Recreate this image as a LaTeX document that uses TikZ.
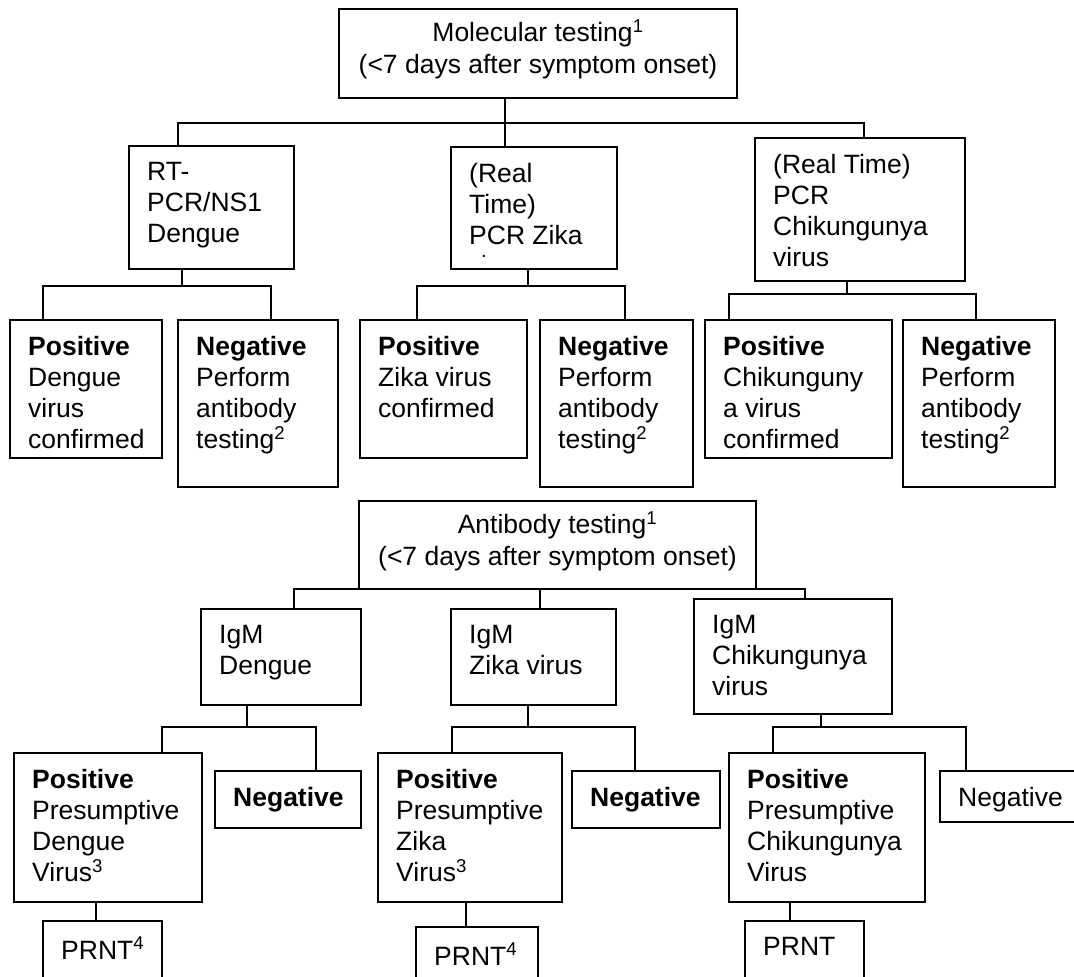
\documentclass[tikz,border=0pt]{standalone}
\usepackage{fontspec}
\setmainfont{Liberation Sans}
\usetikzlibrary{calc}
\tikzset{
  box/.style={draw=black, line width=1.6pt, anchor=north west, inner sep=0pt, outer sep=0pt, rectangle},
  txt/.style={anchor=north west, inner sep=0pt, align=left, font=\fontsize{26.5}{31}\selectfont},
  ctxt/.style={inner sep=0pt, align=center, font=\fontsize{26.5}{32}\selectfont},
  conn/.style={line width=1.6pt, line cap=rect},
}
\newcommand{\bx}[6]{%
  \node[box, minimum width=#4pt, minimum height=#5pt] (#1) at (#2,#3) {};
  \node[txt] (#1t) at ($(#1.north west)+(18,16)$) {#6};
}
\begin{document}
\begin{tikzpicture}[x=1pt,y=-1pt]
\useasboundingbox (0,0) rectangle (1074,977);
\fill[white] (0,0) rectangle (1074,977);
\clip (0,0) rectangle (1074,977);

% ---------- molecular testing ----------
\node[box, minimum width=398pt, minimum height=89pt] (T) at (339,9) {};
\node[ctxt] (Tt) at ($(T.center)+(0,-4)$) {Molecular testing\textsuperscript{1}\\(<7 days after symptom onset)};

\bx{P1}{129}{146}{165}{123}{RT-\\PCR/NS1\\Dengue}
\bx{P2}{451}{147}{166}{122}{(Real\\Time)\\PCR Zika}
\node[anchor=base, inner sep=0pt, font=\fontsize{20}{24}\selectfont] (P2dot) at (484,257) {.};
\bx{P3}{755}{138}{210}{143}{(Real Time)\\PCR\\Chikungunya\\virus}

\bx{Dp}{10}{320}{152}{138}{\textbf{Positive}\\Dengue\\virus\\confirmed}
\bx{Dn}{178}{320}{160}{167}{\textbf{Negative}\\Perform\\antibody\\testing\textsuperscript{2}}
\bx{Zp}{360}{320}{167}{138}{\textbf{Positive}\\Zika virus\\confirmed}
\bx{Zn}{540}{320}{153}{167}{\textbf{Negative}\\Perform\\antibody\\testing\textsuperscript{2}}
\bx{Cp}{705}{320}{187}{138}{\textbf{Positive}\\Chikunguny\\a virus\\confirmed}
\bx{Cn}{903}{320}{152}{167}{\textbf{Negative}\\Perform\\antibody\\testing\textsuperscript{2}}

% connectors (top)
\coordinate (j0m) at (505,123);
\coordinate (j0l) at (178,123);
\coordinate (j0r) at (864,123);
\draw[conn] (T.south -| j0m) -- (j0m);
\draw[conn] (P1.north -| j0l) -- (j0l) -- (j0r) -- (P3.north -| j0r);
\draw[conn] (j0m) -- (P2.north -| j0m);

\coordinate (j1m) at (182,286);
\coordinate (j1l) at (43,286);
\coordinate (j1r) at (271,286);
\draw[conn] (P1.south -| j1m) -- (j1m);
\draw[conn] (Dp.north -| j1l) -- (j1l) -- (j1r) -- (Dn.north -| j1r);

\coordinate (j2m) at (528,286);
\coordinate (j2l) at (417,286);
\coordinate (j2r) at (625,286);
\draw[conn] (P2.south -| j2m) -- (j2m);
\draw[conn] (Zp.north -| j2l) -- (j2l) -- (j2r) -- (Zn.north -| j2r);

\coordinate (j3m) at (847,294);
\coordinate (j3l) at (729,294);
\coordinate (j3r) at (976,294);
\draw[conn] (P3.south -| j3m) -- (j3m);
\draw[conn] (Cp.north -| j3l) -- (j3l) -- (j3r) -- (Cn.north -| j3r);

% ---------- antibody testing ----------
\node[box, minimum width=397pt, minimum height=88pt] (A) at (359,501) {};
\node[ctxt] (At) at ($(A.center)+(0,-4)$) {Antibody testing\textsuperscript{1}\\(<7 days after symptom onset)};

\bx{I1}{201}{609}{160}{96}{IgM\\Dengue}
\bx{I2}{451}{609}{165}{96}{IgM\\Zika virus}
\bx{I3}{694}{599}{198}{115}{IgM\\Chikungunya\\virus}

\coordinate (kL) at (294,589);
\coordinate (kM) at (540,589);
\coordinate (kR) at (805,589);
\draw[conn] (I1.north -| kL) -- (kL) -- (A.south west);
\draw[conn] (A.south east) -- (kR) -- (I3.north -| kR);
\draw[conn] (A.south -| kM) -- (I2.north -| kM);

\bx{Qp1}{14}{753}{188}{149}{\textbf{Positive}\\Presumptive\\Dengue\\Virus\textsuperscript{3}}
\bx{Qn1}{215}{771}{146}{57}{\textbf{Negative}}
\bx{Qp2}{378}{753}{184}{149}{\textbf{Positive}\\Presumptive\\Zika\\Virus\textsuperscript{3}}
\bx{Qn2}{572}{771}{148}{57}{\textbf{Negative}}
\bx{Qp3}{729}{753}{196}{149}{\textbf{Positive}\\Presumptive\\Chikungunya\\Virus}
\bx{Qn3}{940}{771}{160}{51}{Negative}

\coordinate (m1m) at (247,727);
\coordinate (m1l) at (162,727);
\coordinate (m1r) at (316,727);
\draw[conn] (I1.south -| m1m) -- (m1m);
\draw[conn] (Qp1.north -| m1l) -- (m1l) -- (m1r) -- (Qn1.north -| m1r);

\coordinate (m2m) at (528,727);
\coordinate (m2l) at (452,727);
\coordinate (m2r) at (635,727);
\draw[conn] (I2.south -| m2m) -- (m2m);
\draw[conn] (Qp2.north -| m2l) -- (m2l) -- (m2r) -- (Qn2.north -| m2r);

\coordinate (m3m) at (821,727);
\coordinate (m3l) at (773,727);
\coordinate (m3r) at (966,727);
\draw[conn] (I3.south -| m3m) -- (m3m);
\draw[conn] (Qp3.north -| m3l) -- (m3l) -- (m3r) -- (Qn3.north -| m3r);

% ---------- PRNT ----------
\bx{R1}{43}{921}{119}{80}{PRNT\textsuperscript{4}}
\bx{R2}{416}{927}{122}{80}{PRNT\textsuperscript{4}}
\bx{R3}{745}{921}{119}{80}{PRNT}

\coordinate (r1) at (96,0);
\coordinate (r2) at (466,0);
\coordinate (r3) at (790,0);
\draw[conn] (Qp1.south -| r1) -- (R1.north -| r1);
\draw[conn] (Qp2.south -| r2) -- (R2.north -| r2);
\draw[conn] (Qp3.south -| r3) -- (R3.north -| r3);
\end{tikzpicture}
\end{document}
